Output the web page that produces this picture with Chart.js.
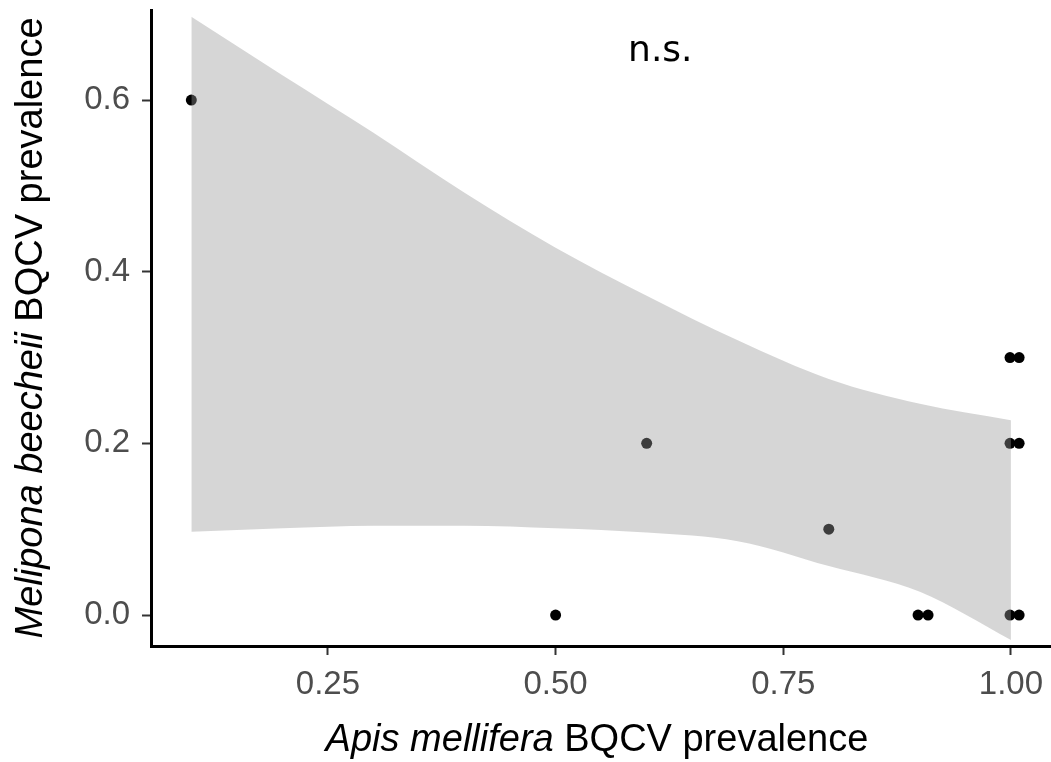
<!DOCTYPE html>
<html>
<head>
<meta charset="utf-8">
<script src="https://cdn.jsdelivr.net/npm/chart.js@4.4.1/dist/chart.umd.min.js"></script>
<style>
  html, body { margin: 0; padding: 0; background: #fff; }
  canvas { display: block; }
</style>
</head>
<body>
<canvas id="chart" width="1051" height="762"></canvas>
<script>
// colony prevalence, one point per site (x jittered slightly at 0.9 and 1.0)
const apisPrev     = [0.1, 0.5, 0.6, 0.8, 0.898, 0.909, 0.999, 1.009, 0.999, 1.009, 0.999, 1.009]
const meliponaPrev = [0.6, 0.0, 0.2, 0.1, 0.0,   0.0,   0.3,   0.3,   0.2,   0.2,   0.0,   0.0]

// confidence band of the smooth
const bandX     = [0.1,   0.2,   0.3,   0.4,   0.5,   0.6,   0.7,   0.8,   0.9,   1.0]
const bandUpper = [0.697, 0.629, 0.562, 0.492, 0.428, 0.372, 0.320, 0.275, 0.246, 0.227]
const bandLower = [0.097, 0.101, 0.104, 0.104, 0.101, 0.096, 0.086, 0.057, 0.027, -0.029]

const xTicks = [0.25, 0.5, 0.75, 1.0]
const yTicks = [0.0, 0.2, 0.4, 0.6]

const nsLabel = { text: 'n.s.', x: 0.615, y: 0.645 }

const tickFont = "'Liberation Sans', Arial, sans-serif"

const points = apisPrev.map((x, i) => ({ x: x, y: meliponaPrev[i] }))
const upper = bandX.map((x, i) => ({ x: x, y: bandUpper[i] }))
const lower = bandX.map((x, i) => ({ x: x, y: bandLower[i] }))

const axisTitles = {
  id: 'axisTitles',
  afterDraw(chart) {
    const ctx = chart.ctx
    const area = chart.chartArea
    const size = 38
    const italic = `italic ${size}px ${tickFont}`
    const normal = `${size}px ${tickFont}`

    function mixed(parts, cx, baseline) {
      let total = 0
      parts.forEach(p => { ctx.font = p.font; p.w = ctx.measureText(p.text).width; total += p.w })
      let x = cx - total / 2
      parts.forEach(p => {
        ctx.font = p.font
        ctx.fillText(p.text, x, baseline)
        x += p.w
      })
    }

    ctx.save()
    ctx.fillStyle = '#000'
    ctx.textAlign = 'left'
    ctx.textBaseline = 'alphabetic'
    mixed([
      { text: 'Apis mellifera', font: italic },
      { text: ' BQCV prevalence', font: normal }
    ], 597, 751)

    ctx.translate(42, (area.top + area.bottom) / 2)
    ctx.rotate(-Math.PI / 2)
    mixed([
      { text: 'Melipona beecheii', font: italic },
      { text: ' BQCV prevalence', font: normal }
    ], 0, 0)
    ctx.restore()

    // significance note
    ctx.save()
    ctx.font = "36px 'DejaVu Sans', sans-serif"
    ctx.fillStyle = '#000'
    ctx.textAlign = 'center'
    ctx.textBaseline = 'alphabetic'
    ctx.fillText(nsLabel.text, chart.scales.x.getPixelForValue(nsLabel.x), chart.scales.y.getPixelForValue(nsLabel.y))
    ctx.restore()
  }
}

new Chart(document.getElementById('chart'), {
  type: 'scatter',
  data: {
    datasets: [
      {
        type: 'line',
        label: 'upper',
        data: upper,
        borderWidth: 0,
        pointRadius: 0,
        cubicInterpolationMode: 'monotone',
        backgroundColor: 'rgba(153, 153, 153, 0.4)',
        fill: '+1',
        order: 0
      },
      {
        type: 'line',
        label: 'lower',
        data: lower,
        borderWidth: 0,
        pointRadius: 0,
        cubicInterpolationMode: 'monotone',
        fill: false,
        order: 0
      },
      {
        label: 'sites',
        data: points,
        pointRadius: 5.5,
        borderWidth: 0,
        backgroundColor: '#000',
        order: 1
      }
    ]
  },
  options: {
    responsive: false,
    animation: false,
    layout: { autoPadding: false, padding: { top: 10, right: 0, left: 0, bottom: 0 } },
    plugins: {
      legend: { display: false },
      tooltip: { enabled: false }
    },
    scales: {
      x: {
        type: 'linear',
        min: 0.0557,
        max: 1.044,
        afterFit: s => { s.height = 116; s.paddingLeft = 0; s.paddingRight = 0 },
        afterBuildTicks: s => { s.ticks = xTicks.map(v => ({ value: v })) },
        border: { color: '#000', width: 3 },
        grid: { drawOnChartArea: false, tickLength: 9, tickWidth: 2, tickColor: '#333' },
        ticks: {
          color: '#4d4d4d',
          padding: 10,
          font: { family: tickFont, size: 33 },
          maxRotation: 0,
          callback: v => v.toFixed(2)
        }
      },
      y: {
        type: 'linear',
        min: -0.0361,
        max: 0.7049,
        afterFit: s => { s.width = 151; s.paddingTop = 0; s.paddingBottom = 0 },
        afterBuildTicks: s => { s.ticks = yTicks.map(v => ({ value: v })) },
        border: { color: '#000', width: 3 },
        grid: { drawOnChartArea: false, tickLength: 9, tickWidth: 2, tickColor: '#333' },
        ticks: {
          color: '#4d4d4d',
          padding: 12,
          font: { family: tickFont, size: 33 },
          callback: v => v.toFixed(1)
        }
      }
    }
  },
  plugins: [axisTitles]
})
</script>
</body>
</html>
